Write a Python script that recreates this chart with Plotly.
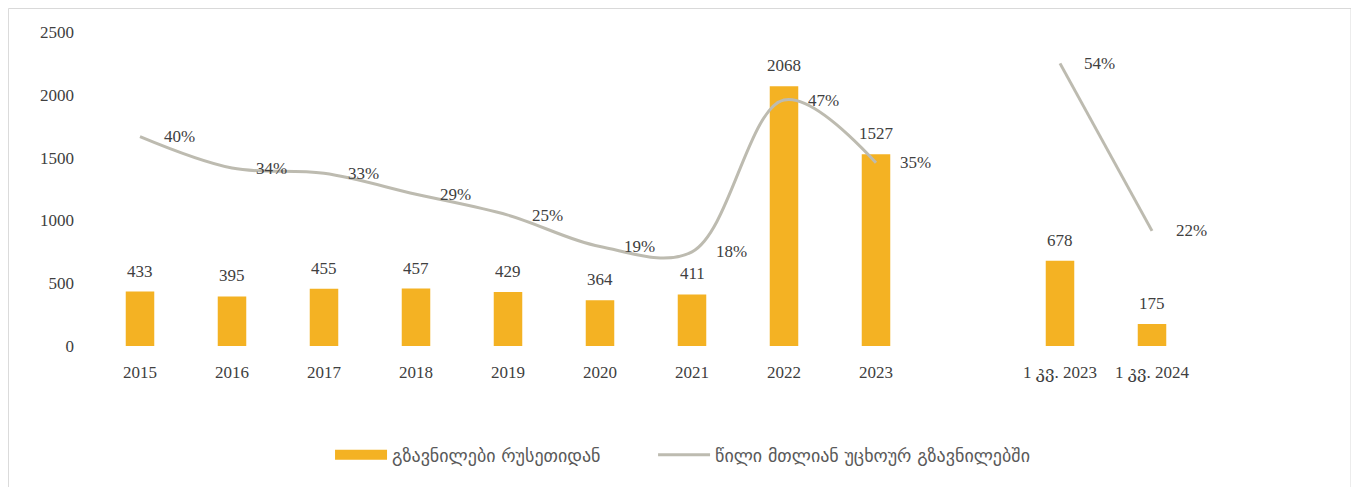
import plotly.graph_objects as go

categories = ["2015", "2016", "2017", "2018", "2019", "2020", "2021", "2022", "2023",
              " ", "1 კვ. 2023", "1 კვ. 2024"]
remittances = [433, 395, 455, 457, 429, 364, 411, 2068, 1527, None, 678, 175]
share = [0.40, 0.34, 0.33, 0.29, 0.25, 0.19, 0.18, 0.47, 0.35, None, 0.54, 0.22]
y_ticks = [0, 500, 1000, 1500, 2000, 2500]

bar_name = "გზავნილები რუსეთიდან"
line_name = "წილი მთლიან უცხოურ გზავნილებში"

BAR_COLOR = "#F4B223"
LINE_COLOR = "#BDBBB0"
TEXT_COLOR = "#404040"
FONT = "Liberation Serif, DejaVu Serif, serif"
LEGEND_FONT = dict(family="DejaVu Sans, Noto Sans, sans-serif", size=18, color="#595959")

fig = go.Figure()
fig.add_trace(go.Bar(
    x=categories, y=remittances, name=bar_name,
    marker=dict(color=BAR_COLOR, line=dict(width=0)),
    width=0.31, showlegend=False,
))
# legend entry for bars (wide rectangle swatch, as in the reference)
fig.add_trace(go.Scatter(
    x=[None], y=[None], name=bar_name, mode="lines",
    line=dict(color=BAR_COLOR, width=12), legend="legend",
))
fig.add_trace(go.Scatter(
    x=categories, y=share, name=line_name, yaxis="y2",
    mode="lines", line=dict(color=LINE_COLOR, width=3, shape="spline", smoothing=1.0),
    connectgaps=False, legend="legend2",
))

annotations = []
for i, v in enumerate(remittances):
    if v is None:
        continue
    annotations.append(dict(x=i, y=v, xref="x", yref="y", text=str(v), showarrow=False,
                            yanchor="bottom", yshift=9,
                            font=dict(family=FONT, size=17, color=TEXT_COLOR)))
for i, s in enumerate(share):
    if s is None:
        continue
    annotations.append(dict(x=i, y=s, xref="x", yref="y2", text=f"{round(s*100)}%",
                            showarrow=False, xanchor="left", xshift=22,
                            font=dict(family=FONT, size=17, color=TEXT_COLOR)))

fig.update_layout(
    width=1344, height=487,
    margin=dict(l=86, r=154, t=24, b=149, autoexpand=False),
    paper_bgcolor="white", plot_bgcolor="white",
    font=dict(family=FONT, size=17, color=TEXT_COLOR),
    showlegend=True,
    legend=dict(orientation="h", x=0.2138, y=-0.347, xanchor="left", yanchor="middle",
                font=LEGEND_FONT, itemwidth=52),
    legend2=dict(orientation="h", x=0.5064, y=-0.347, xanchor="left", yanchor="middle",
                 font=LEGEND_FONT, itemwidth=52),
    xaxis=dict(type="category", categoryorder="array", categoryarray=categories,
               range=[-0.5, len(categories) - 0.5], automargin=False,
               showgrid=False, showline=False, zeroline=False, ticks="",
               ticklabelstandoff=14,
               tickfont=dict(family=FONT, size=17, color=TEXT_COLOR)),
    yaxis=dict(range=[0, 2500], tickvals=y_ticks, showgrid=False, showline=False,
               zeroline=False, ticks="", ticklabelstandoff=19, automargin=False,
               tickfont=dict(family=FONT, size=17, color=TEXT_COLOR)),
    yaxis2=dict(range=[0, 0.6], overlaying="y", side="right", visible=False,
                showgrid=False, zeroline=False),
    annotations=annotations,
    shapes=[dict(type="rect", xref="paper", yref="paper",
                 x0=-0.0775, x1=1.1386, y0=-0.5, y1=1.0748,
                 line=dict(color="#D9D9D9", width=1), fillcolor="rgba(0,0,0,0)",
                 layer="below")],
)

fig.write_html("out.html")
